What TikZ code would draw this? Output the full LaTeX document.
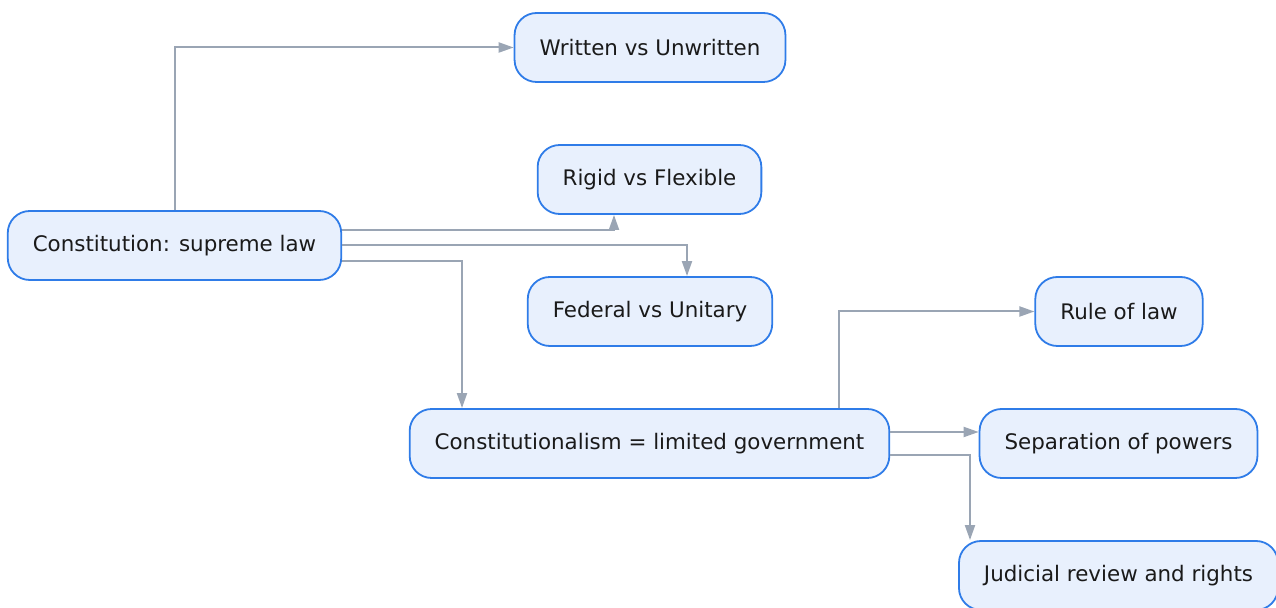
\documentclass[tikz,border=0pt]{standalone}
\usepackage{fontspec}
\setmainfont{DejaVu Sans}
\usepackage{tikz}
\usetikzlibrary{arrows.meta,positioning}
\usepackage{xcolor}
\definecolor{cFill}{RGB}{232,240,253}
\definecolor{cBorder}{RGB}{47,124,232}
\definecolor{cEdge}{RGB}{154,165,180}
\definecolor{cText}{RGB}{26,26,26}

\begin{document}
\begin{tikzpicture}[x=0.5pt, y=-0.5pt,
    topic/.style={draw=cBorder, fill=cFill, line width=0.9pt, rounded corners=11pt,
      text=cText, inner xsep=12.5pt, minimum height=34.5pt,
      font=\fontsize{10.7}{13}\selectfont},
    edge/.style={draw=cEdge, line width=1pt, -{Triangle[length=7.5pt,width=5pt]}}]
  \useasboundingbox (0,0) rectangle (1276,608);
  % Nodes
  \node[topic] (con) at (174.5,245.5) {Constitution: supreme law};
  \node[topic] (wri) at (650,47.5) {Written vs Unwritten};
  \node[topic] (rig) at (649.5,179.5) {Rigid vs Flexible};
  \node[topic] (fed) at (650,311.5) {Federal vs Unitary};
  \node[topic] (cst) at (649.5,443.5) {Constitutionalism = limited government};
  \node[topic] (rul) at (1119,311.5) {Rule of law};
  \node[topic] (sep) at (1118.5,443.5) {Separation of powers};
  \node[topic] (jud) at (1118.5,575.5) {Judicial review and rights};
  % Edges
  \draw[edge] (con.north) |- (wri.west);
  \draw[edge] ([yshift=7.75pt]con.east) -| ([xshift=-17.75pt]rig.south);
  \draw[edge] (con.east) -| ([xshift=18.5pt]fed.north);
  \draw[edge] ([yshift=-7.75pt]con.east) -| ([xshift=-93.75pt]cst.north);
  \draw[edge] ([xshift=94.75pt]cst.north) |- (rul.west);
  \draw[edge] ([yshift=5.75pt]cst.east) -- ([yshift=5.75pt]sep.west);
  \draw[edge] ([yshift=-5.75pt]cst.east) -| ([xshift=-74.25pt]jud.north);
\end{tikzpicture}
\end{document}
